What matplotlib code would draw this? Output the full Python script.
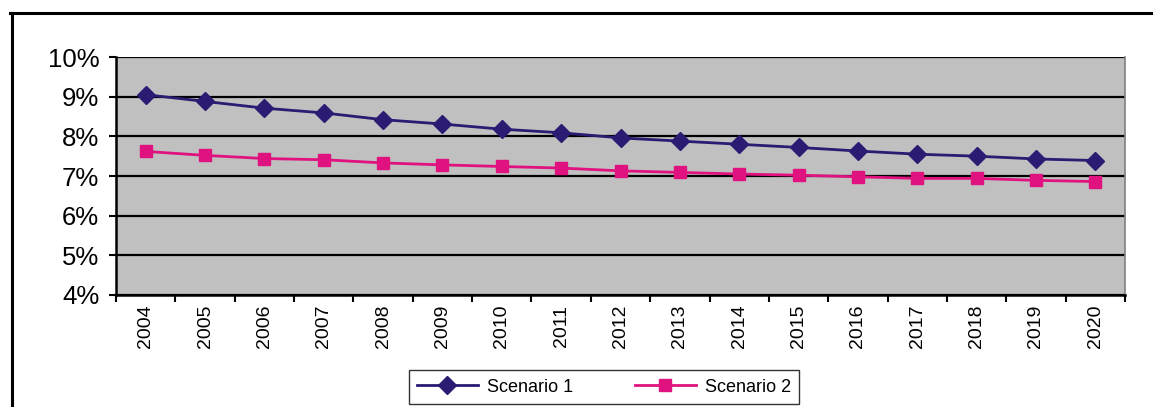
import matplotlib
matplotlib.use("Agg")
import matplotlib.pyplot as plt
from matplotlib.lines import Line2D
from matplotlib.ticker import FuncFormatter, MultipleLocator

plt.rcParams["font.family"] = ["Liberation Sans", "DejaVu Sans"]

years = [str(y) for y in range(2004, 2021)]
scenario_1 = [9.05, 8.88, 8.71, 8.59, 8.42, 8.31, 8.18, 8.09, 7.96, 7.88,
              7.80, 7.72, 7.63, 7.55, 7.50, 7.43, 7.39]
scenario_2 = [7.62, 7.52, 7.44, 7.41, 7.33, 7.28, 7.24, 7.20, 7.13, 7.09,
              7.05, 7.02, 6.98, 6.94, 6.94, 6.89, 6.86]

navy = "#2B1B73"
pink = "#E0127F"
W, H = 1153, 407

fig = plt.figure(figsize=(W / 100, H / 100), dpi=100)
ax = fig.add_axes([116 / W, 1 - 295 / H, 1009 / W, 238 / H])
ax.set_facecolor("#C0C0C0")

x = range(len(years))
ax.plot(x, scenario_1, color=navy, lw=2.0, marker="D", ms=9,
        mec=navy, mfc=navy, label="Scenario 1", zorder=4)
ax.plot(x, scenario_2, color=pink, lw=2.0, marker="s", ms=9,
        mec=pink, mfc=pink, label="Scenario 2", zorder=3)

ax.set_xlim(-0.5, len(years) - 0.5)
ax.set_ylim(4, 10)
ax.yaxis.set_major_locator(MultipleLocator(1))
ax.yaxis.set_major_formatter(FuncFormatter(lambda v, _: f"{v:.0f}%"))
ax.grid(axis="y", color="black", lw=1.6, zorder=1)
ax.set_axisbelow(True)

# category ticks sit between the bins, labels in the middle
ax.set_xticks([i - 0.5 for i in range(len(years) + 1)])
ax.set_xticklabels([])
ax.set_xticks(list(x), minor=True)
ax.set_xticklabels(years, minor=True, rotation=90, fontsize=14)
ax.tick_params(axis="x", which="major", direction="out", length=5, width=1.5)
ax.tick_params(axis="x", which="minor", length=0, pad=7)
ax.tick_params(axis="y", direction="out", length=5, width=1.5, pad=7,
               labelsize=18.5)

for side in ("left", "bottom"):
    ax.spines[side].set_linewidth(1.8)
    ax.spines[side].set_color("black")
ax.spines["top"].set_visible(False)
ax.spines["right"].set_color("#808080")
ax.spines["right"].set_linewidth(1.2)

leg = ax.legend(loc="center", bbox_to_anchor=(604 / W, 1 - 387 / H),
                bbox_transform=fig.transFigure, ncol=2, frameon=True,
                fancybox=False, edgecolor="black", fontsize=13,
                handlelength=3.4, columnspacing=3.4, borderpad=0.45,
                borderaxespad=0, handletextpad=0.5, markerscale=1.0)
leg.get_frame().set_linewidth(1.0)

# outer frame around the chart
fig.add_artist(Line2D([11.5 / W, 11.5 / W], [0, 1 - 12.5 / H],
                      transform=fig.transFigure, color="black", lw=2.2))
fig.add_artist(Line2D([10.5 / W, 1], [1 - 12.5 / H, 1 - 12.5 / H],
                      transform=fig.transFigure, color="black", lw=2.2))

fig.savefig("out.png", dpi=100, facecolor="white")
